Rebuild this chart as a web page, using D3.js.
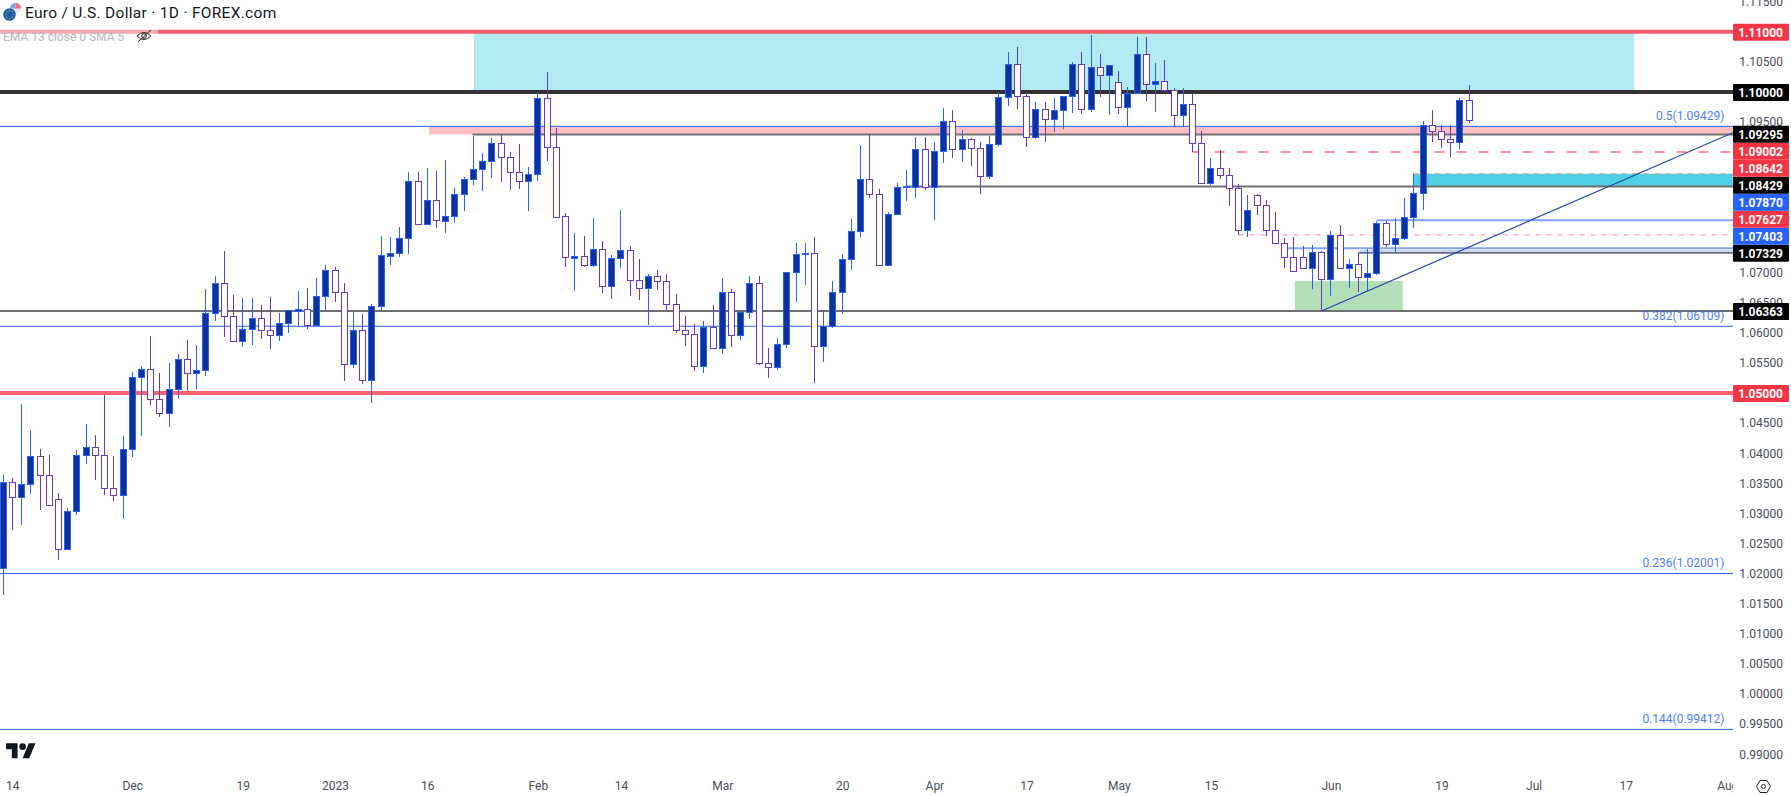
<!DOCTYPE html>
<html>
<head>
<meta charset="utf-8">
<script src="https://cdn.jsdelivr.net/npm/d3@7"></script>
<style>
  html, body { margin: 0; padding: 0; background: #fff; overflow: hidden; }
  svg { display: block; }
  text { font-family: Roboto, sans-serif; }
</style>
</head>
<body>
<svg id="canvas" width="1791" height="796"></svg>
<script>
// daily candles
var opens = [
  1.02088,1.03517,1.03268,1.03483,1.03949,1.03633,1.03234,1.02404,1.03035,1.03965,
  1.04098,1.03965,1.03417,1.03301,1.04065,1.05261,1.05394,1.04895,1.04663,1.05062,
  1.05560,1.05327,1.05377,1.06324,1.06822,1.06274,1.05859,1.06058,1.06241,1.06042,
  1.05958,1.06158,1.06362,1.06390,1.06125,1.06603,1.07038,1.06673,1.05477,1.06042,
  1.05211,1.06440,1.07281,1.07321,1.07570,1.08517,1.07802,1.08201,1.07865,1.07935,
  1.08301,1.08550,1.08716,1.08849,1.09148,1.08915,1.08666,1.08517,1.08633,1.09895,
  1.09081,1.07935,1.07248,1.07271,1.07121,1.07387,1.06772,1.07238,1.07370,1.06872,
  1.06739,1.06939,1.06855,1.06473,1.06042,1.05975,1.05444,1.06091,1.05743,1.06673,
  1.05958,1.06341,1.06822,1.05493,1.05427,1.05809,1.07005,1.07304,1.07321,1.05776,
  1.06108,1.06673,1.07221,1.07686,1.08550,1.08301,1.07118,1.07968,1.08417,1.08417,
  1.09048,1.08417,1.09015,1.09513,1.09048,1.09214,1.09065,1.08600,1.09131,1.09912,
  1.10460,1.09929,1.09248,1.09713,1.09547,1.09696,1.09929,1.10460,1.09713,1.10410,
  1.10277,1.10161,1.09746,1.09978,1.10626,1.10128,1.10178,1.10028,1.09613,1.09796,
  1.09148,1.08483,1.08733,1.08616,1.08400,1.07703,1.08284,1.08118,1.07703,1.07487,
  1.07254,1.07254,1.07071,1.07337,1.06889,1.07620,1.07071,1.07138,1.06922,1.06988,
  1.07819,1.07470,1.07570,1.07919,1.08317,1.09447,1.09347,1.09214,1.09164,1.09862
];
var highs = [
  1.03638,1.03583,1.04817,1.04385,1.04070,1.03970,1.03334,1.03085,1.04053,1.04485,
  1.04302,1.04967,1.03954,1.04286,1.05344,1.05449,1.05947,1.05332,1.05498,1.05648,
  1.05880,1.05797,1.06728,1.06944,1.07359,1.06628,1.06578,1.06578,1.06462,1.06595,
  1.06329,1.06379,1.06694,1.06744,1.06910,1.07121,1.07088,1.06822,1.06346,1.06312,
  1.06478,1.07608,1.07591,1.07753,1.08671,1.08671,1.08738,1.08688,1.08870,1.08405,
  1.08583,1.09269,1.08982,1.09231,1.09281,1.08998,1.09136,1.08754,1.10000,1.10332,
  1.09402,1.07985,1.07658,1.07608,1.07907,1.07520,1.07287,1.08040,1.07437,1.07221,
  1.06972,1.07043,1.06972,1.06645,1.06279,1.06141,1.06196,1.06462,1.06905,1.06723,
  1.06379,1.06944,1.06944,1.05743,1.05909,1.07005,1.07492,1.07492,1.07591,1.06362,
  1.06861,1.07304,1.07890,1.09120,1.09302,1.08384,1.08007,1.08483,1.08704,1.09253,
  1.09253,1.09169,1.09734,1.09701,1.09369,1.09236,1.09169,1.09269,1.09995,1.10664,
  1.10747,1.09995,1.09834,1.09834,1.09900,1.09929,1.10498,1.10664,1.10947,1.10631,
  1.10444,1.10349,1.10083,1.10914,1.10914,1.10482,1.10532,1.10061,1.10061,1.09978,
  1.09352,1.08904,1.09037,1.08733,1.08472,1.08284,1.08306,1.08201,1.08007,1.07570,
  1.07591,1.07442,1.07458,1.07359,1.07691,1.07791,1.07226,1.07321,1.07392,1.07857,
  1.07857,1.07907,1.08239,1.08638,1.09518,1.09701,1.09452,1.09452,1.09895,1.10116
];
var lows = [
  1.01645,1.02724,1.02807,1.03322,1.03057,1.03135,1.02226,1.02404,1.02974,1.03821,
  1.03555,1.03306,1.03206,1.02907,1.03942,1.04286,1.04801,1.04606,1.04440,1.04905,
  1.05038,1.05072,1.05287,1.06201,1.05935,1.05859,1.05769,1.05797,1.05897,1.05731,
  1.05864,1.06002,1.06113,1.06068,1.06125,1.06379,1.06512,1.05204,1.05420,1.05155,
  1.04839,1.06379,1.07126,1.07259,1.07309,1.07802,1.07802,1.07741,1.07658,1.07829,
  1.08028,1.08455,1.08360,1.08571,1.08510,1.08377,1.08394,1.08028,1.08527,1.08859,
  1.07919,1.07098,1.06699,1.07098,1.07098,1.06666,1.06567,1.07076,1.06616,1.06550,
  1.06130,1.06716,1.06379,1.06002,1.05786,1.05371,1.05337,1.05743,1.05653,1.05769,
  1.05886,1.06234,1.05470,1.05254,1.05387,1.05753,1.06512,1.06794,1.05171,1.05520,
  1.06080,1.06312,1.07043,1.07596,1.08244,1.07118,1.07118,1.07968,1.08189,1.08239,
  1.08372,1.07874,1.08821,1.08904,1.08837,1.08771,1.08306,1.08555,1.09103,1.09767,
  1.09718,1.09086,1.09219,1.09169,1.09336,1.09385,1.09651,1.09635,1.09668,1.09917,
  1.09618,1.09635,1.09414,1.09978,1.09850,1.09668,1.10005,1.09419,1.09419,1.08998,
  1.08483,1.08460,1.08555,1.08106,1.07625,1.07596,1.07957,1.07608,1.07487,1.07081,
  1.07022,1.07071,1.06728,1.06357,1.06611,1.07071,1.06744,1.06678,1.06694,1.06960,
  1.07420,1.07326,1.07542,1.07741,1.08040,1.09169,1.09070,1.08920,1.09053,1.09490
];
var closes = [
  1.03517,1.03268,1.03483,1.03949,1.03633,1.03135,1.02404,1.03035,1.03965,1.04098,
  1.03965,1.03417,1.03301,1.04065,1.05261,1.05394,1.04895,1.04663,1.05062,1.05560,
  1.05327,1.05377,1.06324,1.06822,1.06274,1.05859,1.06058,1.06241,1.06042,1.05958,
  1.06158,1.06374,1.06390,1.06125,1.06603,1.07038,1.06673,1.05477,1.06042,1.05211,
  1.06440,1.07287,1.07321,1.07570,1.08517,1.07802,1.08201,1.07869,1.07935,1.08301,
  1.08550,1.08716,1.08849,1.09148,1.08915,1.08666,1.08517,1.08633,1.09895,1.09081,
  1.07919,1.07254,1.07271,1.07121,1.07387,1.06772,1.07238,1.07370,1.06872,1.06739,
  1.06939,1.06855,1.06473,1.06042,1.05975,1.05444,1.06091,1.05743,1.06673,1.05958,
  1.06341,1.06822,1.05493,1.05427,1.05809,1.07005,1.07304,1.07321,1.05776,1.06108,
  1.06673,1.07221,1.07686,1.08550,1.08301,1.07118,1.07968,1.08417,1.08439,1.09048,
  1.08417,1.09015,1.09513,1.09048,1.09214,1.09065,1.08600,1.09131,1.09912,1.10460,
  1.09929,1.09248,1.09713,1.09547,1.09696,1.09929,1.10460,1.09713,1.10410,1.10277,
  1.10444,1.09746,1.09978,1.10626,1.10128,1.10178,1.10028,1.09613,1.09796,1.09148,
  1.08483,1.08733,1.08616,1.08400,1.07703,1.08035,1.08118,1.07703,1.07487,1.07254,
  1.07022,1.07071,1.07337,1.06889,1.07620,1.07071,1.07138,1.06922,1.06988,1.07819,
  1.07470,1.07570,1.07919,1.08317,1.09447,1.09347,1.09214,1.09164,1.09862,1.09540
];

// the ticks hidden behind price tags are left out
var priceTicks = [0.99,0.995,1.0,1.005,1.01,1.015,1.02,1.025,1.03,1.035,1.04,1.045,1.055,1.06,1.065,1.07,1.095,1.105,1.115];
var timeTickBars = [1,14,26,36,46,58,67,78,91,101,111,121,131,144,156,166,176,187];
var timeTickLabels = ['14','Dec','19','2023','16','Feb','14','Mar','20','Apr','17','May','15','Jun','19','Jul','17','Aug'];

// price tags on the right
var redTags = [1.11,1.09002,1.08642,1.07627,1.05];
var blackTags = [1.10,1.09295,1.08429,1.07329,1.06363];
var blueTags = [1.0787,1.07403];

// fib retracement
var fibRatios = ['0.5','0.382','0.236','0.144'];
var fibPrices = [1.09429,1.06109,1.02001,0.99412];

var width = 1791, height = 796, plotRight = 1733;
var lastBar = opens.length - 1;

var x = d3.scaleLinear().domain([0, lastBar]).range([3.15, 1469.13]);
var y = d3.scaleLinear().domain([1.10, 1.00]).range([92, 694]);

function barX(i) { return Math.floor(x(i)) + 0.5; }
function crisp(v) { return Math.round(v) + 0.5; }

var svg = d3.select('#canvas');
svg.append('defs').append('clipPath').attr('id', 'plot')
  .append('rect').attr('x', 0).attr('y', 0).attr('width', plotRight).attr('height', height);

var plot = svg.append('g').attr('clip-path', 'url(#plot)');

// Zones
function zone(i0, i1, p0, p1, fill) {
  plot.append('rect')
    .attr('x', x(i0)).attr('width', x(i1) - x(i0))
    .attr('y', y(p0)).attr('height', y(p1) - y(p0))
    .attr('fill', fill);
}
zone(51.07, 176.9, 1.11, 1.10, '#b2ebf2');
zone(46.2, 187.6, 1.09429, 1.09295, '#ffbfc3');
zone(140.1, 151.8, 1.06862, 1.06379, '#b2dfb7');
zone(152.9, 187.6, 1.08642, 1.08429, '#4dd0e1');

// Levels
function level(p, i0, color, w, dash) {
  plot.append('line')
    .attr('x1', i0 === null ? 0 : x(i0)).attr('x2', plotRight)
    .attr('y1', y(p)).attr('y2', y(p))
    .attr('stroke', color).attr('stroke-width', w)
    .attr('stroke-dasharray', dash || null);
}
level(1.11, null, '#f2606c', 4);
level(1.10, null, '#333333', 4);
level(1.05, null, '#ff616e', 4);
level(1.09295, 50.9, '#737373', 2);
level(1.08429, 98, '#707070', 2);
level(1.07329, 147, '#6e7080', 2);
level(1.06363, null, '#707070', 2);
level(1.0787, 149, '#82a5f9', 2);
level(1.07403, 139, '#82a5f9', 2);
level(1.07359, 147.2, '#c5d5fb', 2);
level(1.09002, 129, '#f9929a', 2, '10,12');
level(1.08642, 152.9, '#f9929a', 1, '5,6');
level(1.07627, 134, '#f9929a', 1, '5,6');

fibPrices.forEach(function (p) { level(p, null, '#2962ff', 1); });

// Candles
var candles = plot.selectAll('.candle')
  .data(opens.map(function (o, i) { return { i: i, o: o, h: highs[i], l: lows[i], c: closes[i] }; }))
  .enter().append('g').attr('class', 'candle');

candles.append('line')
  .attr('x1', function (d) { return barX(d.i); })
  .attr('x2', function (d) { return barX(d.i); })
  .attr('y1', function (d) { return y(d.h); })
  .attr('y2', function (d) { return y(d.l); })
  .attr('stroke', function (d) { return d.c >= d.o ? '#2962ff' : '#673ab7'; })
  .attr('shape-rendering', 'crispEdges');

candles.append('rect')
  .attr('x', function (d) { return barX(d.i) - 3; })
  .attr('width', 6)
  .attr('y', function (d) { return crisp(y(Math.max(d.o, d.c))); })
  .attr('height', function (d) { return Math.max(1, crisp(y(Math.min(d.o, d.c))) - crisp(y(Math.max(d.o, d.c)))); })
  .attr('fill', function (d) { return d.c >= d.o ? '#0d3299' : '#ffffff'; })
  .attr('stroke', function (d) { return d.c >= d.o ? '#2962ff' : '#673ab7'; })
  .attr('shape-rendering', 'crispEdges');

// Trend line from the June low
plot.append('line')
  .attr('x1', barX(143)).attr('y1', y(1.06363))
  .attr('x2', x(187.6)).attr('y2', y(1.09324))
  .attr('stroke', '#2444a8').attr('stroke-width', 1.2);

// Fib labels
svg.selectAll('.fib').data(fibPrices).enter().append('text')
  .attr('class', 'fib')
  .attr('x', 1724.5)
  .attr('y', function (p) { return y(p) - 6.5; })
  .attr('text-anchor', 'end')
  .attr('font-size', 12)
  .attr('fill', '#2962ff')
  .attr('fill-opacity', 0.85)
  .text(function (p, i) { return fibRatios[i] + '(' + p.toFixed(5) + ')'; });

// Price axis
var yAxis = d3.axisRight(y).tickValues(priceTicks).tickFormat(d3.format('.5f')).tickSize(0).tickPadding(0);
var axisG = svg.append('g').attr('transform', 'translate(1783,0)').call(yAxis);
axisG.select('.domain').remove();
axisG.selectAll('text')
  .attr('text-anchor', 'end')
  .attr('x', 0)
  .attr('font-size', 12)
  .style('font-family', 'Roboto, sans-serif')
  .attr('fill', '#4a4e58');

// Time axis
var xAxis = d3.axisBottom(x).tickValues(timeTickBars)
  .tickFormat(function (d, i) { return timeTickLabels[i]; }).tickSize(0).tickPadding(0);
var timeG = svg.append('g').attr('clip-path', 'url(#plot)')
  .append('g').attr('transform', 'translate(0,781)').call(xAxis);
timeG.select('.domain').remove();
timeG.selectAll('text')
  .attr('font-size', 12)
  .style('font-family', 'Roboto, sans-serif')
  .attr('fill', '#4a4e58');

// Price tags, stacked from the bottom up so they don't collide
var tags = redTags.map(function (p) { return { p: p, fill: '#f23645' }; })
  .concat(blackTags.map(function (p) { return { p: p, fill: '#000000' }; }))
  .concat(blueTags.map(function (p) { return { p: p, fill: '#2962ff' }; }))
  .sort(function (a, b) { return a.p - b.p; });

var pitch = 17, prev = Infinity;
tags.forEach(function (t) {
  t.cy = Math.min(y(t.p) + 0.5, prev - pitch);
  prev = t.cy;
});

var tagG = svg.selectAll('.tag').data(tags).enter().append('g').attr('class', 'tag');
tagG.append('rect')
  .attr('x', plotRight).attr('width', 56)
  .attr('y', function (t) { return t.cy - 8.5; }).attr('height', 17)
  .attr('rx', 1)
  .attr('fill', function (t) { return t.fill; });
tagG.append('text')
  .attr('x', 1783)
  .attr('y', function (t) { return t.cy + 4.4; })
  .attr('text-anchor', 'end')
  .attr('font-size', 12)
  .attr('font-weight', 700)
  .attr('fill', '#fff')
  .text(function (t) { return t.p.toFixed(5); });

// Header
svg.append('text').attr('x', 25).attr('y', 18)
  .attr('font-size', 15.5).attr('letter-spacing', 0.3).attr('fill', '#131722')
  .text('Euro / U.S. Dollar \u00b7 1D \u00b7 FOREX.com');

// Indicator legend sits over the 1.11 line, with a white wash behind it
svg.append('rect').attr('x', 0).attr('y', 28).attr('width', 158).attr('height', 18)
  .attr('fill', '#fff').attr('fill-opacity', 0.45);
svg.append('text').attr('x', 3).attr('y', 41)
  .attr('font-size', 12).attr('fill', '#b4b6bc')
  .text('EMA 13 close 0 SMA 5');

// Hidden-eye icon
var eye = svg.append('g').attr('transform', 'translate(144,36)')
  .attr('fill', 'none').attr('stroke', '#222').attr('stroke-width', 1);
eye.append('path').attr('d', 'M-7,0 Q0,-7 7,0 Q0,7 -7,0 Z');
eye.append('circle').attr('r', 2.3);
eye.append('line').attr('x1', -6).attr('y1', 6).attr('x2', 7).attr('y2', -6);

// Symbol logo: EU and US flag discs
var logo = svg.append('g');
logo.append('circle').attr('cx', 15.5).attr('cy', 8.5).attr('r', 5.5).attr('fill', '#e8eaf0');
logo.append('path').attr('d', 'M15.5,3 A5.5,5.5 0 0 1 21,8.5 L15.5,8.5 Z').attr('fill', '#ef6c72');
logo.append('path').attr('d', 'M10,8.5 A5.5,5.5 0 0 1 15.5,3 L15.5,8.5 Z').attr('fill', '#7fa0dc');
logo.append('circle').attr('cx', 9.5).attr('cy', 14.5).attr('r', 6.3).attr('fill', '#1c5cab');
d3.range(8).forEach(function (k) {
  var a = k * Math.PI / 4;
  logo.append('circle')
    .attr('cx', 9.5 + 3.8 * Math.cos(a)).attr('cy', 14.5 + 3.8 * Math.sin(a))
    .attr('r', 0.6).attr('fill', '#f2c230');
});

// TradingView mark
var tv = svg.append('g').attr('transform', 'translate(6,740) scale(0.83)').attr('fill', '#131722');
tv.append('path').attr('d', 'M14 22H7V11H0V4h14v18zM28 22h-8l7.5-18h8L28 22z');
tv.append('circle').attr('cx', 20).attr('cy', 8).attr('r', 4);

// Settings hexagon
var gear = svg.append('g').attr('transform', 'translate(1763.5,786.5)')
  .attr('fill', 'none').attr('stroke', '#222').attr('stroke-width', 1);
gear.append('path').attr('d', 'M-7,0 L-3.5,-6 L3.5,-6 L7,0 L3.5,6 L-3.5,6 Z');
gear.append('circle').attr('r', 2);
</script>
</body>
</html>
